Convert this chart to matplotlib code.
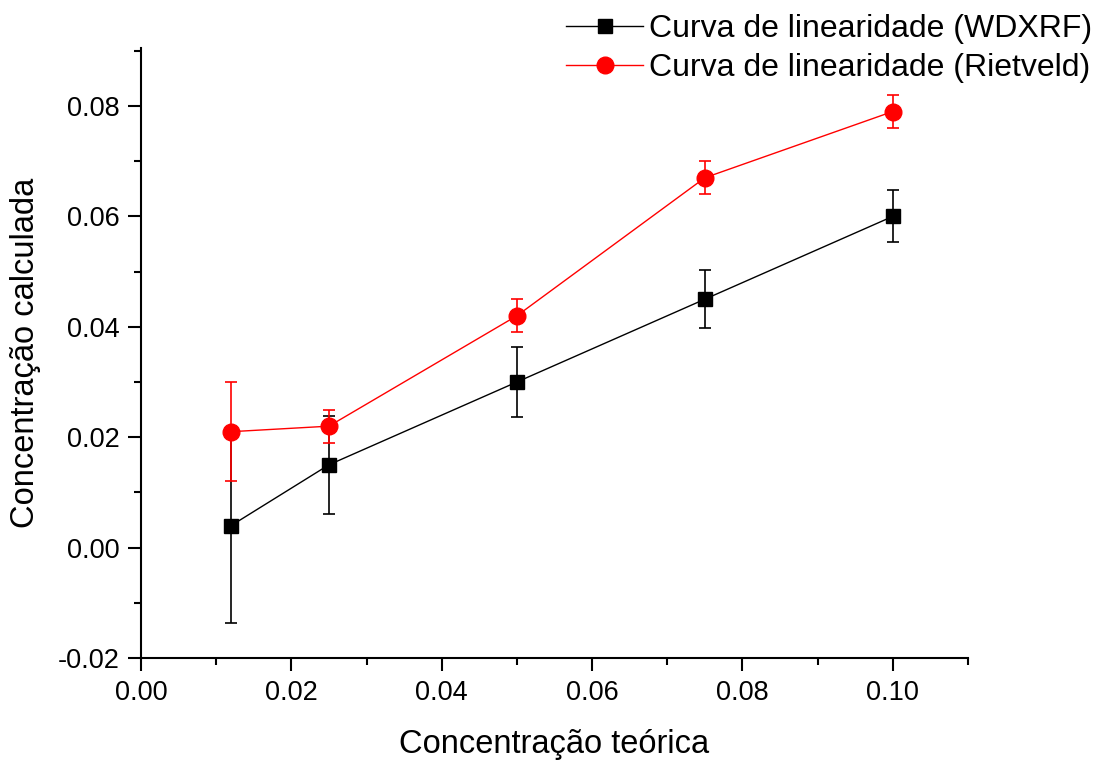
import matplotlib.pyplot as plt

plt.rcParams['font.family'] = ['Liberation Sans', 'DejaVu Sans']

x = [0.012, 0.025, 0.05, 0.075, 0.1]
wdxrf = [0.004, 0.015, 0.030, 0.045, 0.060]
wdxrf_err = [0.0176, 0.0089, 0.0063, 0.0052, 0.0047]
rietveld = [0.021, 0.022, 0.042, 0.067, 0.079]
rietveld_err = [0.009, 0.003, 0.003, 0.003, 0.003]

fig = plt.figure(figsize=(11.05, 7.6), dpi=100)
ax = fig.add_axes([0.1276, 0.1342, 0.7484, 0.8026])

ax.errorbar(x, wdxrf, yerr=wdxrf_err, color='black', marker='s', markersize=10,
            linewidth=1, elinewidth=1.2, capsize=4.5, capthick=1.2,
            label='Curva de linearidade (WDXRF)')
ax.errorbar(x, rietveld, yerr=rietveld_err, color='red', marker='o', markersize=12,
            linewidth=1, elinewidth=1.2, capsize=4.5, capthick=1.2,
            label='Curva de linearidade (Rietveld)')

ax.set_xlim(0, 0.11)
ax.set_ylim(-0.02, 0.0905)
ax.set_xticks([0.0, 0.02, 0.04, 0.06, 0.08, 0.10])
ax.set_xticks([0.01, 0.03, 0.05, 0.07, 0.09, 0.11], minor=True)
ax.set_yticks([-0.02, 0.0, 0.02, 0.04, 0.06, 0.08])
ax.set_yticks([-0.01, 0.01, 0.03, 0.05, 0.07, 0.09], minor=True)
ax.set_xticklabels(['0.00', '0.02', '0.04', '0.06', '0.08', '0.10'])
ax.set_yticklabels(['-0.02', '0.00', '0.02', '0.04', '0.06', '0.08'])

ax.spines['top'].set_visible(False)
ax.spines['right'].set_visible(False)
ax.spines['left'].set_linewidth(1.5)
ax.spines['bottom'].set_linewidth(1.5)
ax.tick_params(which='major', direction='out', length=9.5, width=1.5, labelsize=19.5, pad=6)
ax.tick_params(which='minor', direction='out', length=5, width=1.5)

ax.set_xlabel('Concentração teórica', fontsize=23.5, labelpad=17)
ax.set_ylabel('Concentração calculada', fontsize=23.5, labelpad=12)

handles, labels = ax.get_legend_handles_labels()
handles = [h[0] for h in handles]
leg = fig.legend(handles, labels, loc='upper right', bbox_to_anchor=(1.006, 1.007),
                 frameon=False, fontsize=23, handlelength=2.4, handletextpad=0.2,
                 labelspacing=0.3, borderaxespad=0.2)

fig.savefig('out.png', dpi=100)
